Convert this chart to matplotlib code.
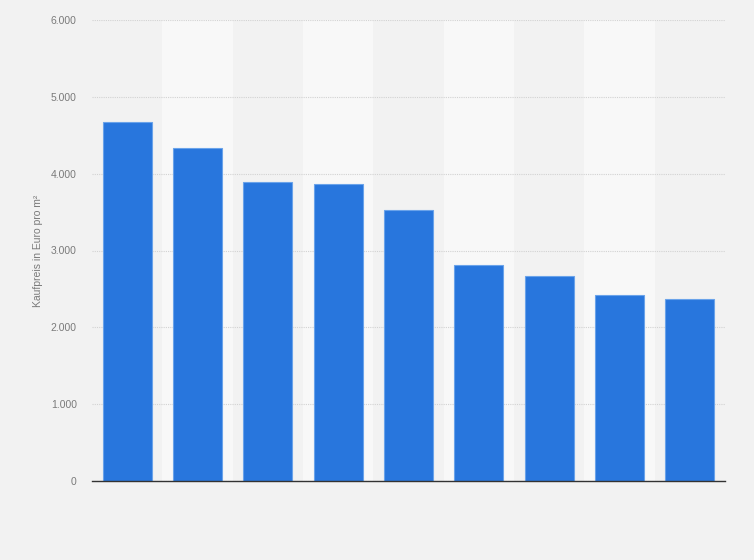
import numpy as np
import matplotlib.pyplot as plt
from matplotlib.ticker import FuncFormatter

plt.rcParams["font.family"] = ["Liberation Sans", "DejaVu Sans"]

# ── Data ─────────────────────────────────────────────────────────────────────
categories = ["1", "2", "3", "4", "5", "6", "7", "8", "9"]   # no labels shown
prices = [4670, 4334, 3890, 3866, 3525, 2808, 2664, 2417, 2366]
y_ticks = [0, 1000, 2000, 3000, 4000, 5000, 6000]

BG_COLOR   = "#f2f2f2"
BAND_COLOR = "#f8f8f8"
BAR_COLOR  = "#2876dd"
BAR_EDGE   = "#6aa3ea"
TEXT_COLOR = "#7a7a7a"

fig = plt.figure(figsize=(7.54, 5.6), dpi=100, facecolor=BG_COLOR)
ax = fig.add_axes([92 / 754, 1 - 481 / 560, (725 - 92) / 754, (481 - 20) / 560])
ax.set_facecolor(BG_COLOR)

x = np.arange(len(categories))

# alternating column bands
for i in x:
    if i % 2 == 1:
        ax.axvspan(i - 0.5, i + 0.5, color=BAND_COLOR, zorder=0, lw=0)

ax.bar(x, prices, width=0.7, color=BAR_COLOR, edgecolor=BAR_EDGE,
       linewidth=0.8, zorder=3)

ax.set_xlim(-0.5, len(categories) - 0.5)
ax.set_ylim(0, 6000)
ax.set_yticks(y_ticks)
ax.yaxis.set_major_formatter(FuncFormatter(lambda v, _: f"{int(v):,}".replace(",", ".")))
ax.set_xticks([])

ax.grid(axis="y", color="#d2d2d2", linestyle=(0, (1, 1)), linewidth=0.8, zorder=1)
ax.set_axisbelow(True)

for side in ["top", "right", "left"]:
    ax.spines[side].set_visible(False)
ax.spines["bottom"].set_color("#333333")
ax.spines["bottom"].set_linewidth(1.0)
ax.spines["bottom"].set_zorder(4)

ax.tick_params(axis="y", length=0, pad=11, labelsize=7.5, labelcolor=TEXT_COLOR)
ax.set_ylabel("Kaufpreis in Euro pro m²", fontsize=7.5, color=TEXT_COLOR)
ax.yaxis.set_label_coords(-0.077, 0.5)

plt.savefig("out.png", dpi=100, facecolor=BG_COLOR)
